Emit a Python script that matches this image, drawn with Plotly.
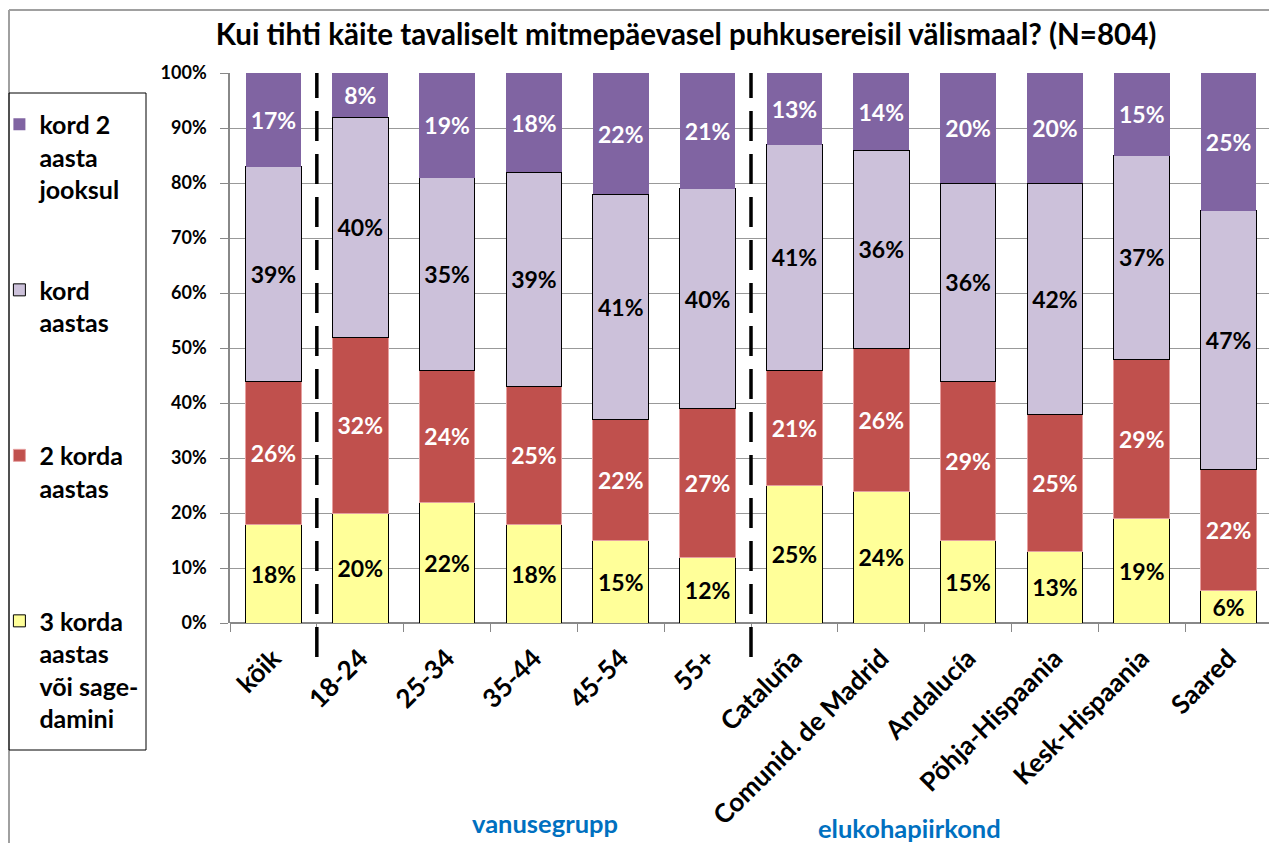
import plotly.graph_objects as go

categories = ["kõik", "18-24", "25-34", "35-44", "45-54", "55+", "Cataluña",
              "Comunid. de Madrid", "Andalucía", "Põhja-Hispaania", "Kesk-Hispaania", "Saared"]

s_3korda = [18, 20, 22, 18, 15, 12, 25, 24, 15, 13, 19, 6]
s_2korda = [26, 32, 24, 25, 22, 27, 21, 26, 29, 25, 29, 22]
s_kord = [39, 40, 35, 39, 41, 40, 41, 36, 36, 42, 37, 47]
s_kord2 = [17, 8, 19, 18, 22, 21, 13, 14, 20, 20, 15, 25]

names = ["<b>3 korda<br>aastas<br>või sage-<br>damini</b>",
         "<b>2 korda<br>aastas</b><br>&nbsp;<br>&nbsp;<br>&nbsp;",
         "<b>kord<br>aastas</b><br>&nbsp;<br>&nbsp;<br>&nbsp;",
         "<b>kord 2<br>aasta<br>jooksul</b><br>&nbsp;<br>&nbsp;"]

title_text = "Kui tihti käite tavaliselt mitmepäevasel puhkusereisil välismaal? (N=804)"
group_labels = ["vanusegrupp", "elukohapiirkond"]

FONT = "Lato"
series = [s_3korda, s_2korda, s_kord, s_kord2]
fills = ["#FFFF99", "#C0504D", "#CCC1DA", "#8064A2"]
lines = ["#000000", "#E6A0A0", "#000000", "#8064A2"]
lwidths = [1, 1, 1, 0]
tcolors = ["black", "white", "black", "white"]

fig = go.Figure()
for i, vals in enumerate(series):
    fig.add_trace(go.Bar(
        x=categories, y=vals, name=names[i], legendgroup=f"g{i}", legendrank=10 - i,
        marker=dict(color=fills[i], line=dict(color=lines[i], width=lwidths[i])),
        text=[f"<b>{v}%</b>" for v in vals], textposition="inside",
        insidetextanchor="middle", textangle=0, constraintext="none",
        textfont=dict(family=FONT, size=23, color=tcolors[i]),
        width=0.64, hoverinfo="skip",
    ))

fig.update_layout(
    barmode="stack",
    width=1277, height=843,
    margin=dict(l=222, r=13, t=65, b=228, autoexpand=False),
    paper_bgcolor="white", plot_bgcolor="white",
    font=dict(family=FONT, color="black"),
    title=dict(text="<b>" + title_text + "</b>", x=0.531, xanchor="center",
               y=0.968, yanchor="middle", font=dict(size=29.5, family=FONT)),
    legend=dict(x=-0.2213, xanchor="left", y=0.948, yanchor="top",
                traceorder="normal", valign="top",
                font=dict(size=25, family=FONT, color="black"),
                bgcolor="rgba(0,0,0,0)", borderwidth=0, itemwidth=30,
                maxheight=800),
    showlegend=True,
)

fig.update_xaxes(
    type="category", range=[-0.5, 11.5], tickangle=-45,
    tickfont=dict(size=26, family=FONT, color="black"),
    ticks="outside", tickson="boundaries", ticklen=8, tickcolor="#888888",
    ticklabelstandoff=14,
    showline=False, showgrid=False, fixedrange=True, automargin=False,
    tickvals=categories, ticktext=[f"<b>{c}</b>" for c in categories],
)
fig.update_yaxes(
    range=[0, 100],
    tickvals=list(range(0, 101, 10)),
    ticktext=[f"<b>{v}%</b>" for v in range(0, 101, 10)],
    tickfont=dict(size=18, family=FONT, color="black"),
    showgrid=True, gridcolor="#999999", gridwidth=1,
    showline=True, linecolor="#888888", linewidth=1.5,
    ticks="outside", ticklen=8, tickcolor="#888888", ticklabelstandoff=10,
    zeroline=True, zerolinecolor="#888888", zerolinewidth=1.5,
    fixedrange=True, automargin=False,
)

# dashed separators between groups
for xpos in [0.5, 5.5]:
    fig.add_shape(type="line", xref="x", yref="paper", x0=xpos, x1=xpos,
                  y0=-0.062, y1=1.0, line=dict(color="black", width=3.5, dash="30px,13px"))

# outer chart border (top and left edges)
fig.add_shape(type="line", xref="paper", yref="paper",
              x0=-221 / 1042, x1=1.1, y0=(623 - 10) / 550, y1=(623 - 10) / 550,
              line=dict(color="#A0A0A0", width=2))
fig.add_shape(type="line", xref="paper", yref="paper",
              x0=-221 / 1042, x1=-221 / 1042, y0=-0.45, y1=(623 - 10) / 550,
              line=dict(color="#A0A0A0", width=2))
# legend frame
fig.add_shape(type="rect", xref="paper", yref="paper",
              x0=-221 / 1042, x1=-84 / 1042, y0=(623 - 750) / 550, y1=(623 - 93) / 550,
              line=dict(color="black", width=1), fillcolor="rgba(0,0,0,0)")

fig.add_annotation(text="<b>" + group_labels[0] + "</b>", xref="paper", yref="paper",
                   x=(545 - 230) / 1042, y=(623 - 823) / 550, showarrow=False,
                   xanchor="center", yanchor="middle",
                   font=dict(size=25.5, family=FONT, color="#0070C0"))
fig.add_annotation(text="<b>" + group_labels[1] + "</b>", xref="paper", yref="paper",
                   x=(909 - 230) / 1042, y=(623 - 828) / 550, showarrow=False,
                   xanchor="center", yanchor="middle",
                   font=dict(size=25.5, family=FONT, color="#0070C0"))

fig.write_html("out.html")
